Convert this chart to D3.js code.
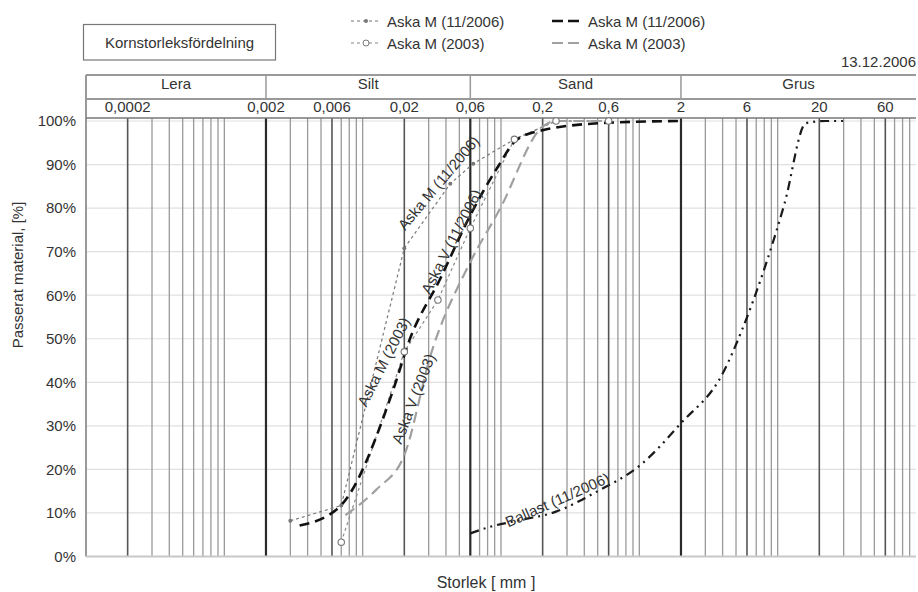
<!DOCTYPE html>
<html>
<head>
<meta charset="utf-8">
<script src="https://cdn.jsdelivr.net/npm/d3@7"></script>
<style>
  body { margin: 0; background: #fff; }
  text { font-family: "Liberation Sans", Arial, sans-serif; fill: #333; }
</style>
</head>
<body>
<svg id="chart" width="918" height="592"></svg>
<script>
// Soil fraction bands and their bounds (mm)
const fractionNames = ["Lera", "Silt", "Sand", "Grus"];
const fractionBounds = [0.0001, 0.002, 0.06, 2, 100];
// Labelled grain sizes (mm) shown in the header row
const sizeTicks = [0.0002, 0.002, 0.006, 0.02, 0.06, 0.2, 0.6, 2, 6, 20, 60];
// Percentage ticks on the left axis
const percentTicks = [0, 10, 20, 30, 40, 50, 60, 70, 80, 90, 100];

// Grading curves: [grain size mm, passing %]
const askaM2006Thin = [[0.003, 8.2], [0.007, 11.7], [0.02, 70.8], [0.043, 85.6], [0.063, 90.2], [0.125, 95.8], [0.25, 100], [0.6, 100]];
const askaM2003Thin = [[0.007, 3.3], [0.02, 47], [0.035, 58.9], [0.06, 75.4], [0.125, 95.8], [0.25, 100], [0.6, 100]];
const askaV2006 = [[0.0035, 7.1], [0.0068, 11.4], [0.0166, 38.2], [0.0218, 49.7], [0.036, 63.5], [0.061, 78.8], [0.095, 89.5], [0.129, 95.6], [0.2, 97.9], [0.6, 99.6], [2, 100]];
const askaV2003 = [[0.0075, 9.5], [0.0125, 15.3], [0.02, 23.3], [0.0313, 46.7], [0.0593, 67.3], [0.0975, 79.6], [0.2, 98.7], [0.25, 100], [0.6, 100]];
const ballast2006 = [[0.06, 5.3], [0.083, 6.8], [0.125, 8.1], [0.25, 10.3], [0.5, 15], [1, 20.8], [2, 30.6], [4, 42], [5.6, 52.5], [8, 66], [11.2, 81], [16, 99.5], [22.4, 100], [31.5, 100]];

// Curve captions: text, anchor size (mm), anchor passing %, rotation
const captionText = ["Aska M (11/2006)", "Aska V (11/2006)", "Aska M (2003)", "Aska V (2003)", "Ballast (11/2006)"];
const captionSize = [0.0354, 0.0437, 0.0142, 0.0233, 0.256];
const captionPass = [85.8, 72.3, 44.7, 36.2, 13];
const captionAngle = [-50, -63, -63, -69, -24];

// Legend entries
const legendLabels = ["Aska M (11/2006)", "Aska M (2003)", "Aska M (11/2006)", "Aska M (2003)"];

const svg = d3.select("#chart");
const left = 86, right = 916, plotTop = 118, plotBottom = 556.5;
const headTop = 75, headMid = 99;

const x = d3.scaleLog().domain([0.0001, 100]).range([left, right]);
const y = d3.scaleLinear().domain([0, 100]).range([plotBottom, 121]);

const near = (a, b) => Math.abs(Math.log10(a) - Math.log10(b)) < 1e-6;

// Horizontal grid
svg.append("g").selectAll("line").data(percentTicks.filter(d => d > 0)).join("line")
  .attr("x1", left).attr("x2", right)
  .attr("y1", d => y(d)).attr("y2", d => y(d))
  .attr("stroke", "#e0e0e0").attr("stroke-width", 1.2);

// Vertical grid: every 1..9 multiple per decade
const gridVals = x.ticks().filter(v => v > 0.0001 * 1.0001 && v < 100 * 0.9999);
svg.append("g").selectAll("line").data(gridVals).join("line")
  .attr("x1", d => x(d)).attr("x2", d => x(d))
  .attr("y1", plotTop).attr("y2", plotBottom)
  .attr("stroke", d => fractionBounds.some(b => near(b, d)) ? "#2a2a2a" : (sizeTicks.some(t => near(t, d)) ? "#555" : "#9a9a9a"))
  .attr("stroke-width", d => fractionBounds.some(b => near(b, d)) ? 2.2 : (sizeTicks.some(t => near(t, d)) ? 1.6 : 1.3));

// Plot frame
svg.append("line").attr("x1", left).attr("x2", left).attr("y1", headTop).attr("y2", plotBottom)
  .attr("stroke", "#999").attr("stroke-width", 2);
svg.append("line").attr("x1", left).attr("x2", right).attr("y1", plotBottom).attr("y2", plotBottom)
  .attr("stroke", "#c8c8c8").attr("stroke-width", 2);
svg.append("line").attr("x1", left).attr("x2", right).attr("y1", plotTop).attr("y2", plotTop)
  .attr("stroke", "#777").attr("stroke-width", 1.5);

// Header table
[headTop, headMid].forEach(h => {
  svg.append("line").attr("x1", left).attr("x2", right).attr("y1", h).attr("y2", h)
    .attr("stroke", "#999").attr("stroke-width", 2);
});
svg.append("g").selectAll("line").data(fractionBounds.slice(1, -1)).join("line")
  .attr("x1", d => x(d)).attr("x2", d => x(d))
  .attr("y1", headTop).attr("y2", headMid)
  .attr("stroke", "#999").attr("stroke-width", 1.5);
svg.append("g").selectAll("text").data(fractionNames).join("text")
  .attr("x", (d, i) => (x(fractionBounds[i]) + x(fractionBounds[i + 1])) / 2)
  .attr("y", 89).attr("text-anchor", "middle")
  .style("font-size", "15px").text(d => d);
svg.append("g").selectAll("text").data(sizeTicks).join("text")
  .attr("x", d => x(d)).attr("y", 112).attr("text-anchor", "middle")
  .style("font-size", "15px")
  .text(d => String(d).replace(".", ","));

// Y axis
const yAxis = d3.axisLeft(y).tickValues(percentTicks).tickFormat(d => d + "%").tickSize(0).tickPadding(10);
const ya = svg.append("g").attr("transform", `translate(${left},0)`).call(yAxis);
ya.select(".domain").remove();
ya.selectAll("text").style("font-size", "15px").style("font-family", '"Liberation Sans", Arial, sans-serif').attr("fill", "#333");

// Axis titles
svg.append("text").attr("transform", "translate(23,275) rotate(-90)")
  .attr("text-anchor", "middle").style("font-size", "15px").text("Passerat material, [%]");
svg.append("text").attr("x", 486).attr("y", 588).attr("text-anchor", "middle")
  .style("font-size", "16px").text("Storlek [ mm ]");

// Title box and date
svg.append("rect").attr("x", 83.5).attr("y", 24.5).attr("width", 192).attr("height", 35.5)
  .attr("fill", "none").attr("stroke", "#777").attr("stroke-width", 1.2);
svg.append("text").attr("x", 179.5).attr("y", 47.5).attr("text-anchor", "middle")
  .style("font-size", "15px").text("Kornstorleksfördelning");
svg.append("text").attr("x", 916).attr("y", 66.5).attr("text-anchor", "end")
  .style("font-size", "15px").text("13.12.2006");

// Curves: thin measured series as polylines, the others smoothed
const polyline = d3.line().x(d => x(d[0])).y(d => y(d[1]));
const smooth = d3.line().x(d => x(d[0])).y(d => y(d[1])).curve(d3.curveMonotoneX);
const styles = [
  { data: askaM2006Thin, gen: polyline, stroke: "#7a7a7a", width: 1.2, dash: "3,3" },
  { data: askaM2003Thin, gen: polyline, stroke: "#8a8a8a", width: 1.2, dash: "3,3" },
  { data: askaV2003, gen: smooth, stroke: "#a0a0a0", width: 2.2, dash: "11,6" },
  { data: askaV2006, gen: smooth, stroke: "#111", width: 2.6, dash: "10,6" },
  { data: ballast2006, gen: smooth, stroke: "#1a1a1a", width: 2.2, dash: "9,5,2,5,2,5" }
];
svg.append("g").selectAll("path").data(styles).join("path")
  .attr("d", s => s.gen(s.data)).attr("fill", "none")
  .attr("stroke", s => s.stroke).attr("stroke-width", s => s.width)
  .attr("stroke-dasharray", s => s.dash);

// Markers
svg.append("g").selectAll("circle").data(askaM2006Thin).join("circle")
  .attr("cx", d => x(d[0])).attr("cy", d => y(d[1])).attr("r", 2)
  .attr("fill", "#777");
svg.append("g").selectAll("circle").data(askaM2003Thin).join("circle")
  .attr("cx", d => x(d[0])).attr("cy", d => y(d[1])).attr("r", 3.2)
  .attr("fill", "#fff").attr("stroke", "#777").attr("stroke-width", 1.1);

// Curve captions
svg.append("g").selectAll("text").data(captionText).join("text")
  .attr("transform", (d, i) => `translate(${x(captionSize[i])},${y(captionPass[i])}) rotate(${captionAngle[i]})`)
  .attr("text-anchor", "middle").attr("dy", "0.35em")
  .style("font-size", "15px").text(d => d);

// Legend
const legendX = [351, 351, 552, 552];
const legendY = [21, 43, 21, 43];
const legendStyles = [
  { stroke: "#777", width: 1.2, dash: "3,3", mark: "dot" },
  { stroke: "#888", width: 1.2, dash: "3,3", mark: "circle" },
  { stroke: "#111", width: 2.6, dash: "11,5", mark: null },
  { stroke: "#a0a0a0", width: 2, dash: "11,5", mark: null }
];
const lg = svg.append("g");
legendLabels.forEach((lab, i) => {
  const st = legendStyles[i];
  lg.append("line").attr("x1", legendX[i]).attr("x2", legendX[i] + 30)
    .attr("y1", legendY[i]).attr("y2", legendY[i])
    .attr("stroke", st.stroke).attr("stroke-width", st.width).attr("stroke-dasharray", st.dash);
  if (st.mark === "dot") {
    lg.append("circle").attr("cx", legendX[i] + 15).attr("cy", legendY[i]).attr("r", 2).attr("fill", "#777");
  } else if (st.mark === "circle") {
    lg.append("circle").attr("cx", legendX[i] + 15).attr("cy", legendY[i]).attr("r", 3)
      .attr("fill", "#fff").attr("stroke", "#777");
  }
  lg.append("text").attr("x", legendX[i] + 36).attr("y", legendY[i] + 5.5)
    .style("font-size", "15px").text(lab);
});
</script>
</body>
</html>
